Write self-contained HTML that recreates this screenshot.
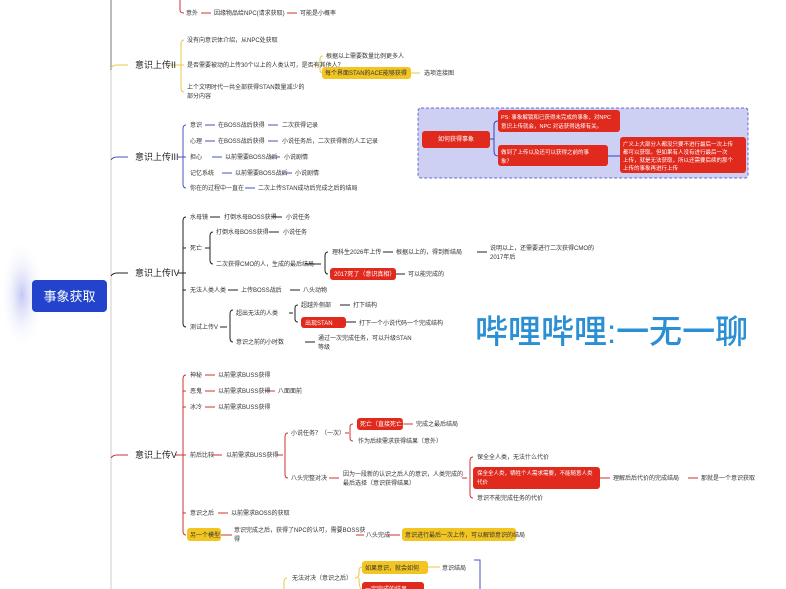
<!DOCTYPE html>
<html><head><meta charset="utf-8"><style>
html,body{margin:0;padding:0;background:#fff;width:786px;height:589px;overflow:hidden}
svg{display:block}
text{font-family:"Liberation Sans","Noto Sans CJK SC",sans-serif;font-size:6px;fill:#333}
.b{font-size:9px;fill:#222}
.w{fill:#fff}
.p{font-size:5.5px}
</style></head><body>
<svg width="786" height="589" viewBox="0 0 786 589" xmlns="http://www.w3.org/2000/svg">
<defs><radialGradient id="g" cx="0.5" cy="0.5" r="0.5"><stop offset="0" stop-color="#9aa2ee" stop-opacity="0.6"/><stop offset="1" stop-color="#fff" stop-opacity="0"/></radialGradient></defs>
<rect x="0" y="240" width="44" height="110" fill="url(#g)"/>
<line x1="111" y1="0" x2="111" y2="70" stroke="#777" stroke-width="1"/>
<line x1="111" y1="70" x2="111" y2="589" stroke="#ccc" stroke-width="1"/>
<rect x="32" y="280" width="75" height="32" rx="4" fill="#2244cc"/>
<text x="69.5" y="301" text-anchor="middle" class="w" style="font-size:13px">事象获取</text>

<g fill="none" stroke-width="1">
<path d="M180 0 V10 Q180 13 184 13" stroke="#c33"/>
<line x1="201" y1="13" x2="211" y2="13" stroke="#c33"/>
<line x1="287" y1="13" x2="297" y2="13" stroke="#c33"/>
<path d="M111 68 Q113 65 117 65 H128" stroke="#e6c84a"/>
<line x1="170" y1="65" x2="178" y2="65" stroke="#e6c84a"/>
<path d="M184 40 Q181 40 181 44 V88 Q181 92 184 92 M178 65 H184" stroke="#e6c84a"/>
<path d="M313 65 H317 M323 56 Q320 56 320 59 V70 Q320 73 323 73" stroke="#e6c84a"/>
<line x1="411" y1="73" x2="420" y2="73" stroke="#e6c84a"/>
<path d="M111 160 Q113 157 117 157 H128" stroke="#4455bb"/>
<line x1="178" y1="157" x2="186" y2="157" stroke="#4455bb"/>
<path d="M186 125 Q183 125 183 129 V184 Q183 188 186 188" stroke="#4455bb"/>
<path d="M205 125 H215 M268 125 H278 M205 141 H215 M268 141 H278 M212 157 H222 M270 157 H280 M222 173 H232 M282 173 H292 M245 188 H255" stroke="#4455bb"/>
<path d="M111 276 Q113 273 117 273 H128" stroke="#222"/>
<line x1="178" y1="273" x2="186" y2="273" stroke="#222"/>
<path d="M186 217 Q183 217 183 221 V323 Q183 327 186 327 M183 248 H186 M183 290 H186" stroke="#222"/>
<path d="M210 217 H220 M272 217 H282" stroke="#222"/>
<path d="M205 248 H210 M213 232 Q210 232 210 236 V260 Q210 264 213 264" stroke="#222"/>
<path d="M269 232 H279 M305 264 H321 M328 252 Q325 252 325 256 V270 Q325 274 328 274 M383 252 H393 M477 252 H487 M396 274 H405" stroke="#222"/>
<path d="M228 290 H238 M290 290 H300" stroke="#222"/>
<path d="M220 327 H227 M233 310 Q230 310 230 314 V338 Q230 342 233 342 M289 313 H293 M298 305 Q295 305 295 308 V319 Q295 322 298 322 M340 305 H350 M346 322 H356 M305 342 H315" stroke="#222"/>
<path d="M111 458 Q113 455 117 455 H128" stroke="#c33"/>
<line x1="175" y1="455" x2="183" y2="455" stroke="#c33"/>
<path d="M186 375 Q183 375 183 379 V531 Q183 535 186 535 M183 391 H186 M183 407 H186 M183 455 H186 M183 513 H186" stroke="#c33"/>
<path d="M205 375 H215 M205 391 H215 M265 391 H275 M205 407 H215 M212 455 H222 M277 455 H283 M288 433 Q285 433 285 437 V474 Q285 478 288 478" stroke="#c33"/>
<path d="M345 433 H349 M353 424 Q350 424 350 427 V438 Q350 441 353 441 M403 424 H413" stroke="#c33"/>
<path d="M329 478 H339 M462 478 H467 M473 457 Q470 457 470 461 V494 Q470 498 473 498 M600 478 H610 M688 478 H698" stroke="#c33"/>
<path d="M218 513 H228 M220 535 H232 M356 535 H364 M388 535 H400" stroke="#c33"/>
<path d="M287 578 Q284 578 284 582 V589" stroke="#e6c84a"/>
<path d="M355 578 Q359 578 359 574 V571 Q359 567 362 567 M359 578 Q359 589 362 589 M428 567 H440" stroke="#e6c84a"/>
<path d="M474 560 H480 V589" stroke="#4455bb"/>
</g>

<text x="186" y="15">意外</text><text x="214" y="15">因缘物品给NPC(请求获取)</text><text x="300" y="15">可能是小概率</text>
<text x="135" y="68" class="b">意识上传II</text>
<text x="187" y="42">没有向意识体介绍，从NPC处获取</text>
<text x="187" y="67">是否需要被动的上传30个以上的人类认可，是否有其他人？</text>
<text x="326" y="58">根据以上需要数量比例更多人</text>
<rect x="322" y="67" width="89" height="12" rx="3" fill="#f2c522"/>
<text x="325" y="75">每个界面STAN的ACE能够获得</text>
<text x="424" y="75">选项连接图</text>
<text x="187" y="89">上个文明时代一共全部获得STAN数量减少的</text>
<text x="187" y="98">部分内容</text>
<text x="135" y="160" class="b">意识上传III</text>
<text x="190" y="127">意识</text><text x="218" y="127">在BOSS战后获得</text><text x="282" y="127">二次获得记录</text>
<text x="190" y="143">心理</text><text x="218" y="143">在BOSS战后获得</text><text x="282" y="143">小说任务后，二次获得新的人工记录</text>
<text x="190" y="159">担心</text><text x="225" y="159">以前需要BOSS战后</text><text x="284" y="159">小说剧情</text>
<text x="190" y="175">记忆系统</text><text x="235" y="175">以前需要BOSS战后</text><text x="295" y="175">小说剧情</text>
<text x="190" y="190">你在的过程中一直在</text><text x="258" y="190">二次上传STAN成功后完成之后的结局</text>
<text x="135" y="276" class="b">意识上传IV</text>
<text x="190" y="219">水母镜</text><text x="224" y="219">打倒水母BOSS获得</text><text x="286" y="219">小说任务</text>
<text x="190" y="250">死亡</text>
<text x="216" y="234">打倒水母BOSS获得</text><text x="283" y="234">小说任务</text>
<text x="216" y="266">二次获得CMO的人，生成的最后结局</text>
<text x="332" y="254">理科生2026年上传</text><text x="396" y="254">根据以上的，得到新结局</text>
<text x="490" y="250">说明以上，还需要进行二次获得CMO的</text><text x="490" y="259">2017年后</text>
<rect x="330" y="268" width="66" height="12" rx="3" fill="#e02a1e"/>
<text x="334" y="276" class="w">2017死了（意识真相）</text>
<text x="408" y="276">可以能完成的</text>
<text x="190" y="292">无法人类人类</text><text x="241" y="292">上传BOSS战后</text><text x="303" y="292">八头动物</text>
<text x="190" y="329">测试上传V</text>
<text x="236" y="315">超出无法的人类</text>
<text x="301" y="307">超越外侧部</text><text x="353" y="307">打下结构</text>
<rect x="301" y="317" width="45" height="11" rx="3" fill="#e02a1e"/>
<text x="305" y="325" class="w">出现STAN</text>
<text x="359" y="325">打下一个小说代码一个完成结构</text>
<text x="236" y="344">意识之前的小时数</text>
<text x="318" y="340">通过一次完成任务，可以升级STAN</text><text x="318" y="349">等级</text>
<text x="135" y="458" class="b">意识上传V</text>
<text x="190" y="377">神秘</text><text x="218" y="377">以前需求BUSS获得</text>
<text x="190" y="393">恶鬼</text><text x="218" y="393">以前需求BUSS获得</text><text x="278" y="393">八面面前</text>
<text x="190" y="409">冰冷</text><text x="218" y="409">以前需求BUSS获得</text>
<text x="190" y="457">前后比较</text><text x="226" y="457">以前需求BUSS获得</text>
<text x="291" y="435">小说任务？（一次）</text>
<rect x="357" y="418" width="46" height="12" rx="3" fill="#e02a1e"/>
<text x="360" y="426" class="w">死亡（直接死亡）</text>
<text x="416" y="426">完成之最后结局</text>
<text x="358" y="443">作为后续需求获得结果（意外）</text>
<text x="291" y="480">八头完整对决</text>
<text x="343" y="476">因为一段新的认识之后人的意识，人类完成的</text>
<text x="343" y="485">最后选择（意识获得结果）</text>
<text x="477" y="459">保全全人类，无法什么代价</text>
<rect x="473" y="467" width="127" height="22" rx="3" fill="#e02a1e"/>
<text x="477" y="475" class="w p">保全全人类，牺牲个人需求需要，不能随意人类</text>
<text x="477" y="484" class="w p">代价</text>
<text x="613" y="480">理解后后代价的完成结局</text><text x="701" y="480">那就是一个意识获取</text>
<text x="477" y="500">意识不能完成任务的代价</text>
<text x="190" y="515">意识之后</text><text x="231" y="515">以前需求BOSS的获取</text>
<rect x="187" y="528" width="34" height="13" rx="3" fill="#f2c522"/>
<text x="190" y="537">另一个模型</text>
<text x="234" y="532">意识完成之后，获得了NPC的认可，需要BOSS获</text><text x="234" y="541">得</text>
<text x="366" y="537">八头完成</text>
<rect x="402" y="528" width="114" height="13" rx="3" fill="#f2c522"/>
<text x="405" y="537">意识进行最后一次上传，可以解锁意识的结局</text>
<text x="292" y="580">无法对决（意识之后）</text>
<rect x="362" y="561" width="66" height="13" rx="3" fill="#f2c522"/>
<text x="365" y="570">如果意识，就会如何</text>
<text x="442" y="570">意识结局</text>
<rect x="362" y="582" width="62" height="13" rx="3" fill="#e02a1e"/>
<text x="365" y="591" class="w">一定完成的结果</text>

<rect x="418" y="108" width="330" height="70" rx="3" fill="#cdcff3" stroke="#6a6ad0" stroke-dasharray="3,2"/>
<g fill="none" stroke="#3344bb"><path d="M490 139 H494 M498 121 Q494 121 494 125 V151 Q494 156 498 156 M608 156 H620"/></g>
<rect x="422" y="131" width="68" height="17" rx="3" fill="#e02a1e"/>
<text x="456" y="141" text-anchor="middle" class="w">如何获得事象</text>
<rect x="498" y="110" width="122" height="22" rx="3" fill="#e02a1e"/>
<text x="501" y="119" class="w p">PS: 事象解锁和已获得未完成的事象，对NPC</text>
<text x="501" y="128" class="w p">意识上传就会，NPC 对话获得选择有关。</text>
<rect x="498" y="145" width="110" height="21" rx="3" fill="#e02a1e"/>
<text x="501" y="154" class="w p">做到了上传以及还可以获得之前的事</text>
<text x="501" y="163" class="w p">象？</text>
<rect x="620" y="137" width="126" height="36" rx="3" fill="#e02a1e"/>
<text x="623" y="146" class="w p">广义上大部分人都没只要不进行最后一次上传</text>
<text x="623" y="154" class="w p">都可以获取。但如果有人没有进行最后一次</text>
<text x="623" y="162" class="w p">上传，就是无法获取，所以还需要后续的那个</text>
<text x="623" y="170" class="w p">上传的事象再进行上传</text>

<text x="475" y="343" style="font-size:33px;fill:#2a8fd4;font-weight:500">哔哩哔哩:一无一聊</text>
</svg>
</body></html>
